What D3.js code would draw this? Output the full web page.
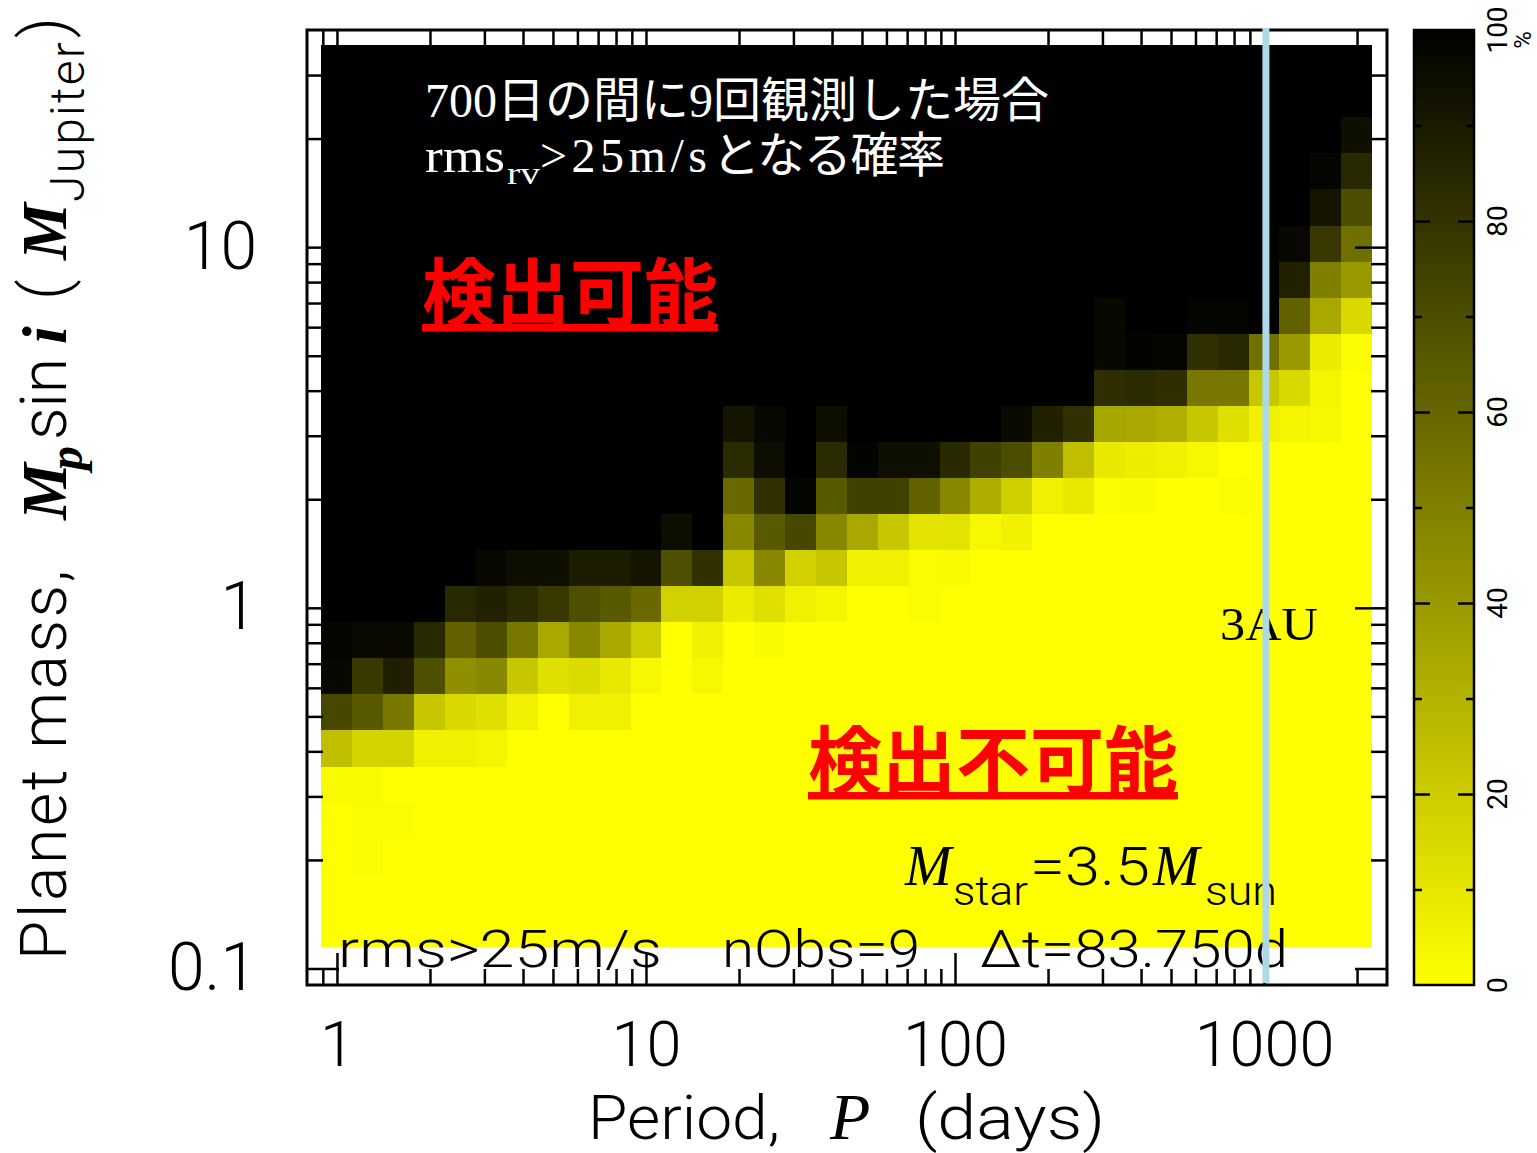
<!DOCTYPE html>
<html><head><meta charset="utf-8">
<script src="https://cdn.jsdelivr.net/npm/d3@7"></script>
<style>body{margin:0;background:#fff}svg{display:block}</style>
</head><body>
<svg id="c" width="1537" height="1153"></svg>
<script>
// ---------------- data ----------------
// log10(period / days) of each heat-map column centre
const logPeriodCenters = [0,0.1,0.2,0.3,0.4,0.5,0.6,0.7,0.8,0.9,1,1.1,1.2,1.3,1.4,1.5,1.6,1.7,1.8,1.9,2,2.1,2.2,2.3,2.4,2.5,2.6,2.7,2.8,2.9,3,3.1,3.2,3.3];
// log10(mass / M_Jupiter) of each heat-map row centre (top to bottom)
const logMassCenters = [1.51,1.41,1.31,1.21,1.11,1.01,0.91,0.81,0.71,0.61,0.51,0.41,0.31,0.21,0.11,0.01,-0.09,-0.19,-0.29,-0.39,-0.49,-0.59,-0.69,-0.79,-0.89];
// probability (%) that rms_rv > 25 m/s, rows top->bottom, cols left->right
const detectProb = [
[100,100,100,100,100,100,100,100,100,100,100,100,100,100,100,100,100,100,100,100,100,100,100,100,100,100,100,100,100,100,100,100,100,100],
[100,100,100,100,100,100,100,100,100,100,100,100,100,100,100,100,100,100,100,100,100,100,100,100,100,100,100,100,100,100,100,100,100,100],
[100,100,100,100,100,100,100,100,100,100,100,100,100,100,100,100,100,100,100,100,100,100,100,100,100,100,100,100,100,100,100,100,100,94],
[100,100,100,100,100,100,100,100,100,100,100,100,100,100,100,100,100,100,100,100,100,100,100,100,100,100,100,100,100,100,100,100,98,84],
[100,100,100,100,100,100,100,100,100,100,100,100,100,100,100,100,100,100,100,100,100,100,100,100,100,100,100,100,100,100,100,100,92,70],
[100,100,100,100,100,100,100,100,100,100,100,100,100,100,100,100,100,100,100,100,100,100,100,100,100,100,100,100,100,100,100,97,78,56],
[100,100,100,100,100,100,100,100,100,100,100,100,100,100,100,100,100,100,100,100,100,100,100,100,100,100,100,100,100,100,100,87,50,40],
[100,100,100,100,100,100,100,100,100,100,100,100,100,100,100,100,100,100,100,100,100,100,100,100,100,97,100,100,98,98,100,62,34,15],
[100,100,100,100,100,100,100,100,100,100,100,100,100,100,100,100,100,100,100,100,100,100,100,100,100,97,99,98,81,84,56,40,8,1],
[100,100,100,100,100,100,100,100,100,100,100,100,100,100,100,100,100,100,100,100,100,100,100,100,100,82,83,82,53,53,22,15,4,0],
[100,100,100,100,100,100,100,100,100,100,100,100,100,92,97,100,95,100,100,100,100,100,96,87,81,35,34,31,22,12,6,4,3,0],
[100,100,100,100,100,100,100,100,100,100,100,100,100,83,95,100,83,99,94,94,84,75,70,50,25,9,7,6,3,0,0,0,0,0],
[100,100,100,100,100,100,100,100,100,100,100,100,100,59,81,98,65,75,75,62,47,32,19,6,9,1,2,0,0,1,0,0,0,0],
[100,100,100,100,100,100,100,100,100,100,100,95,100,47,65,72,47,34,22,11,11,3,5,0,0,0,0,0,0,0,0,0,0,0],
[100,100,100,100,100,97,95,94,89,89,92,69,81,22,47,18,22,6,6,1,2,0,0,0,0,0,0,0,0,0,0,0,0,0],
[100,100,100,100,84,87,83,78,69,65,59,18,18,8,12,6,4,0,0,1,0,0,0,0,0,0,0,0,0,0,0,0,0,0],
[98,96,96,84,62,70,53,34,47,34,20,0,6,0,2,0,0,0,0,0,0,0,0,0,0,0,0,0,0,0,0,0,0,0],
[97,78,88,69,44,47,22,12,14,9,3,0,3,0,0,0,0,0,0,0,0,0,0,0,0,0,0,0,0,0,0,0,0,0],
[72,65,53,22,15,12,6,0,6,6,0,0,0,0,0,0,0,0,0,0,0,0,0,0,0,0,0,0,0,0,0,0,0,0],
[25,17,17,6,6,4,0,0,0,0,0,0,0,0,0,0,0,0,0,0,0,0,0,0,0,0,0,0,0,0,0,0,0,0],
[2,2,0,0,0,0,0,0,0,0,0,0,0,0,0,0,0,0,0,0,0,0,0,0,0,0,0,0,0,0,0,0,0,0],
[0,1,1,0,0,0,0,0,0,0,0,0,0,0,0,0,0,0,0,0,0,0,0,0,0,0,0,0,0,0,0,0,0,0],
[0,1,0,0,0,0,0,0,0,0,0,0,0,0,0,0,0,0,0,0,0,0,0,0,0,0,0,0,0,0,0,0,0,0],
[0,0,0,0,0,0,0,0,0,0,0,0,0,0,0,0,0,0,0,0,0,0,0,0,0,0,0,0,0,0,0,0,0,0],
[0,0,0,0,0,0,0,0,0,0,0,0,0,0,0,0,0,0,0,0,0,0,0,0,0,0,0,0,0,0,0,0,0,0]
];
const xMajorTicks = [1,10,100,1000];
const xMinorTicks = [0.9,2,3,4,5,6,7,8,9,20,30,40,50,60,70,80,90,200,300,400,500,600,700,800,900,2000];
const yMajorTicks = [0.1,1,10];
const yMinorTicks = [0.2,0.3,0.4,0.5,0.6,0.7,0.8,0.9,2,3,4,5,6,7,8,9,20,30];
const cbarMajorTicks = [0,20,40,60,80,100];
const cbarMinorTicks = [10,30,50,70,90];
const period3AU = 1014;   // days, 3 AU around a 3.5 Msun star

// ---------------- drawing ----------------
const svg = d3.select('#c');
const L = 307, R = 1387, T = 30, B = 985;
const x = d3.scaleLog().domain([0.8, 2500]).range([L, R]);
const y = d3.scaleLog().domain([0.09, 40]).range([B, T]);
const color = d3.scaleLinear().domain([0, 100]).range(['#ffff00', '#000000']);
const SANS = "Roboto, 'Liberation Sans', Arial, sans-serif";
const SERIF = "'Liberation Serif', 'Times New Roman', serif";
const CJK = "'Liberation Serif', 'Noto Sans CJK JP', serif";

svg.append('rect').attr('width', 1537).attr('height', 1153).attr('fill', '#fff');

const cells = [];
detectProb.forEach((row, ri) => row.forEach((v, ci) =>
  cells.push({lp: logPeriodCenters[ci], lm: logMassCenters[ri], v})));
svg.append('g').attr('shape-rendering', 'crispEdges')
  .selectAll('rect').data(cells).join('rect')
  .attr('x', d => x(10 ** (d.lp - 0.05)))
  .attr('width', d => x(10 ** (d.lp + 0.05)) - x(10 ** (d.lp - 0.05)))
  .attr('y', d => y(10 ** (d.lm + 0.05)))
  .attr('height', d => y(10 ** (d.lm - 0.05)) - y(10 ** (d.lm + 0.05)))
  .attr('fill', d => color(d.v));

function styleAxis(g, fs) {
  g.select('.domain').remove();
  g.selectAll('line').attr('stroke', '#000').attr('stroke-width', 2.5);
  g.selectAll('text').attr('fill', '#000').attr('font-size', fs)
    .attr('font-family', SANS).attr('font-weight', 300);
}
const fmt = d => d3.format('~g')(d);
const none = () => '';
// bottom
styleAxis(svg.append('g').attr('transform', `translate(0,${B})`)
  .call(d3.axisBottom(x).tickValues(xMajorTicks).tickSize(-32).tickSizeOuter(0).tickPadding(36).tickFormat(fmt)), 63);
styleAxis(svg.append('g').attr('transform', `translate(0,${B})`)
  .call(d3.axisBottom(x).tickValues(xMinorTicks).tickSize(-16).tickSizeOuter(0).tickFormat(none)), 10);
// top
styleAxis(svg.append('g').attr('transform', `translate(0,${T})`)
  .call(d3.axisTop(x).tickValues(xMajorTicks).tickSize(-32).tickSizeOuter(0).tickFormat(none)), 10);
styleAxis(svg.append('g').attr('transform', `translate(0,${T})`)
  .call(d3.axisTop(x).tickValues(xMinorTicks).tickSize(-16).tickSizeOuter(0).tickFormat(none)), 10);
// left
styleAxis(svg.append('g').attr('transform', `translate(${L},0)`)
  .call(d3.axisLeft(y).tickValues(yMajorTicks).tickSize(-32).tickSizeOuter(0).tickPadding(50).tickFormat(fmt)), 66);
styleAxis(svg.append('g').attr('transform', `translate(${L},0)`)
  .call(d3.axisLeft(y).tickValues(yMinorTicks).tickSize(-16).tickSizeOuter(0).tickFormat(none)), 10);
// right
styleAxis(svg.append('g').attr('transform', `translate(${R},0)`)
  .call(d3.axisRight(y).tickValues(yMajorTicks).tickSize(-32).tickSizeOuter(0).tickFormat(none)), 10);
styleAxis(svg.append('g').attr('transform', `translate(${R},0)`)
  .call(d3.axisRight(y).tickValues(yMinorTicks).tickSize(-16).tickSizeOuter(0).tickFormat(none)), 10);

svg.append('rect').attr('x', L).attr('y', T).attr('width', R - L).attr('height', B - T)
  .attr('fill', 'none').attr('stroke', '#000').attr('stroke-width', 3);

// axis titles
const xt = svg.append('text').attr('y', 1139).attr('font-size', 61).attr('font-family', SANS).attr('font-weight', 300);
xt.append('tspan').attr('x', 588).attr('textLength', 192).attr('lengthAdjust', 'spacingAndGlyphs').text('Period,');
xt.append('tspan').attr('x', 830).attr('font-family', SERIF).attr('font-style', 'italic').attr('font-size', 66).text('P');
xt.append('tspan').attr('x', 915).attr('textLength', 190).attr('lengthAdjust', 'spacingAndGlyphs').text('(days)');

const yt = svg.append('text').attr('transform', 'translate(66,960) rotate(-90)')
  .attr('font-size', 64).attr('font-family', SANS).attr('font-weight', 300);
yt.append('tspan').attr('x', 0).attr('y', 0).attr('textLength', 390).text('Planet mass,');
yt.append('tspan').attr('x', 440).attr('y', 0).attr('font-family', SERIF).attr('font-style', 'italic').attr('font-weight', 'bold').text('M');
yt.append('tspan').attr('x', 490).attr('y', 16).attr('font-size', 48).attr('font-family', SERIF).attr('font-style', 'italic').attr('font-weight', 'bold').text('p');
yt.append('tspan').attr('x', 520).attr('y', 0).text('sin');
yt.append('tspan').attr('x', 616).attr('y', 0).attr('font-family', SERIF).attr('font-style', 'italic').attr('font-weight', 'bold').text('i');
yt.append('tspan').attr('x', 660).attr('y', 0).text('(');
yt.append('tspan').attr('x', 700).attr('y', 0).attr('font-family', SERIF).attr('font-style', 'italic').attr('font-weight', 'bold').text('M');
yt.append('tspan').attr('x', 758).attr('y', 18).attr('font-size', 48).attr('textLength', 160).text('Jupiter');
yt.append('tspan').attr('x', 922).attr('y', 0).text(')');

// colour bar
const cb = d3.scaleLinear().domain([0, 100]).range([985, 30]);
const CBL = 1414, CBR = 1474;
const grad = svg.append('defs').append('linearGradient').attr('id', 'cbg')
  .attr('x1', 0).attr('y1', 1).attr('x2', 0).attr('y2', 0);
d3.range(0, 101, 10).forEach(v => grad.append('stop').attr('offset', v / 100).attr('stop-color', color(v)));
svg.append('rect').attr('x', CBL).attr('y', cb(100)).attr('width', CBR - CBL).attr('height', cb(0) - cb(100))
  .attr('fill', 'url(#cbg)').attr('stroke', '#000').attr('stroke-width', 2.5);
styleAxis(svg.append('g').attr('transform', `translate(${CBL},0)`)
  .call(d3.axisRight(cb).tickValues(cbarMajorTicks.slice(1, -1)).tickSize(16).tickSizeOuter(0).tickFormat(none)), 10);
styleAxis(svg.append('g').attr('transform', `translate(${CBL},0)`)
  .call(d3.axisRight(cb).tickValues(cbarMinorTicks).tickSize(8).tickSizeOuter(0).tickFormat(none)), 10);
styleAxis(svg.append('g').attr('transform', `translate(${CBR},0)`)
  .call(d3.axisLeft(cb).tickValues(cbarMajorTicks.slice(1, -1)).tickSize(16).tickSizeOuter(0).tickFormat(none)), 10);
styleAxis(svg.append('g').attr('transform', `translate(${CBR},0)`)
  .call(d3.axisLeft(cb).tickValues(cbarMinorTicks).tickSize(8).tickSizeOuter(0).tickFormat(none)), 10);
svg.append('g').selectAll('text').data(cbarMajorTicks).join('text')
  .attr('transform', d => `translate(1507,${cb(d)}) rotate(-90)`)
  .attr('text-anchor', 'middle').attr('font-size', 28).attr('font-family', SANS).text(d => d);
svg.append('text').attr('transform', 'translate(1531,40) rotate(-90)').attr('text-anchor', 'middle')
  .attr('font-size', 24).attr('font-family', SANS).text('%');

// annotations
svg.append('text').attr('x', 425).attr('y', 117).attr('fill', '#fff').attr('font-size', 48)
  .attr('font-family', CJK).text('700日の間に9回観測した場合');
const t2 = svg.append('text').attr('y', 172).attr('fill', '#fff').attr('font-size', 48).attr('font-family', CJK);
t2.append('tspan').attr('x', 425).attr('textLength', 80).attr('lengthAdjust', 'spacingAndGlyphs').text('rms');
t2.append('tspan').attr('x', 507).attr('dy', 12).attr('font-size', 32).attr('textLength', 33).attr('lengthAdjust', 'spacingAndGlyphs').text('rv');
t2.append('tspan').attr('x', 540).attr('dy', -12).attr('textLength', 167).text('>25m/s');
t2.append('tspan').attr('x', 712).attr('textLength', 233).text('となる確率');

svg.append('text').attr('x', 422).attr('y', 320).attr('fill', '#ff0000').attr('font-size', 74)
  .attr('font-weight', 'bold').attr('font-family', "'Noto Sans CJK JP', sans-serif")
  .attr('text-decoration', 'underline').text('検出可能');
svg.append('text').attr('x', 808).attr('y', 788).attr('fill', '#ff0000').attr('font-size', 74)
  .attr('font-weight', 'bold').attr('font-family', "'Noto Sans CJK JP', sans-serif")
  .attr('text-decoration', 'underline').text('検出不可能');

svg.append('text').attr('x', 1220).attr('y', 640).attr('font-size', 47).attr('font-family', SERIF)
  .attr('textLength', 98).attr('lengthAdjust', 'spacingAndGlyphs').text('3AU');

const ms = svg.append('text').attr('font-family', SANS).attr('font-weight', 300);
ms.append('tspan').attr('x', 905).attr('y', 885).attr('font-size', 56).attr('font-family', SERIF).attr('font-style', 'italic').text('M');
ms.append('tspan').attr('x', 953).attr('y', 905).attr('font-size', 40).attr('textLength', 75).attr('lengthAdjust', 'spacingAndGlyphs').text('star');
ms.append('tspan').attr('x', 1030).attr('y', 885).attr('font-size', 54).attr('textLength', 120).attr('lengthAdjust', 'spacingAndGlyphs').text('=3.5');
ms.append('tspan').attr('x', 1153).attr('y', 885).attr('font-size', 56).attr('font-family', SERIF).attr('font-style', 'italic').text('M');
ms.append('tspan').attr('x', 1205).attr('y', 905).attr('font-size', 40).attr('textLength', 72).attr('lengthAdjust', 'spacingAndGlyphs').text('sun');

const bt = svg.append('text').attr('y', 967).attr('font-size', 52).attr('font-family', SANS).attr('font-weight', 300);
bt.append('tspan').attr('x', 338).attr('textLength', 324).attr('lengthAdjust', 'spacingAndGlyphs').text('rms>25m/s');
bt.append('tspan').attr('x', 722).attr('textLength', 198).attr('lengthAdjust', 'spacingAndGlyphs').text('nObs=9');
bt.append('tspan').attr('x', 980).attr('textLength', 308).attr('lengthAdjust', 'spacingAndGlyphs').text('Δt=83.750d');

// 3 AU line
svg.append('line').attr('x1', x(period3AU)).attr('x2', x(period3AU)).attr('y1', T - 2).attr('y2', B - 2)
  .attr('stroke', '#add8e6').attr('stroke-width', 7);
</script>
</body></html>
